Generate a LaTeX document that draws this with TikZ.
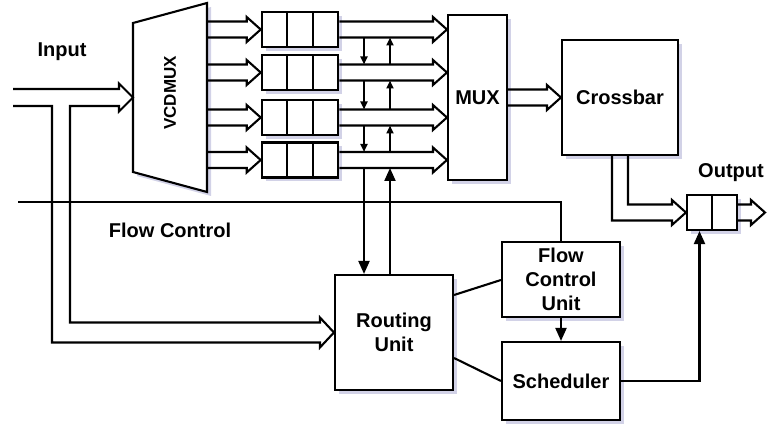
\documentclass[tikz,border=0pt]{standalone}
\usepackage{fontspec}
\setmainfont{Liberation Sans}
\usetikzlibrary{arrows.meta,calc,shadows}

\tikzset{
  box/.style={draw, line width=2.1pt, fill=white, align=center, inner sep=0pt,
    font=\fontsize{20}{24}\selectfont\bfseries,
    drop shadow={shadow xshift=4pt, shadow yshift=-4pt, fill=blue!30!gray!45, opacity=0.6}},
  cell/.style={draw, line width=2.1pt, fill=white, minimum width=25.5pt,
    minimum height=35pt, inner sep=0pt,
    drop shadow={shadow xshift=4pt, shadow yshift=-4pt, fill=blue!30!gray!45, opacity=0.6}},
  hollow/.style={line width=2.1pt, line join=miter},
  wire/.style={line width=2.1pt},
  bigtip/.style={-{Triangle[length=13pt,width=11pt]}},
  smalltip/.style={-{Triangle[length=8pt,width=7pt]}},
  lbl/.style={font=\fontsize{20}{24}\selectfont\bfseries}
}

% hollow (wide) arrow, start point and tip at the same height
\newcommand{\hollowarrow}[2]{%
  \draw[hollow] let \p1=#1, \p2=#2 in
    (\x1,\y2+8pt) -- (\x2-14pt,\y2+8pt) -- (\x2-14pt,\y2+12.5pt) -- (\p2)
    -- (\x2-14pt,\y2-12.5pt) -- (\x2-14pt,\y2-8pt) -- (\x1,\y2-8pt);}

\begin{document}
\begin{tikzpicture}[x=1pt,y=-1pt]
    \useasboundingbox (0,0) rectangle (777,425);

    % VCD demultiplexer
    \draw[box] (133,23) -- (207,3) -- (207,192) -- (133,172) -- cycle;
    \node[rotate=90, font=\fontsize{17}{20}\selectfont\bfseries] (vcd) at (170,93) {VCDMUX};
    \coordinate (vcdin) at (133,97.5);
    \coordinate (vcdout) at (207,97.5);

    % virtual channel buffers
    \foreach \r/\y in {1/29.5,2/72.5,3/117.5,4/160}
      \foreach \c/\x in {1/274.5,2/300,3/325.5}
        \node[cell] (q\r\c) at (\x,\y) {};

    % blocks
    \node[box, minimum width=59pt, minimum height=165pt] (mux) at (477.5,97.5) {MUX};
    \node[box, minimum width=116pt, minimum height=115pt] (cb) at (620,97.5) {Crossbar};
    \node[box, minimum width=118pt, minimum height=115pt] (rout) at (394,332.5) {Routing\\Unit};
    \node[box, minimum width=118pt, minimum height=75pt] (fcu) at (561,279.5) {Flow\\Control\\Unit};
    \node[box, minimum width=118pt, minimum height=78pt] (sch) at (561,381) {Scheduler};

    % output buffer
    \node[cell, minimum width=25pt] (ob1) at (699.5,212.5) {};
    \node[cell, minimum width=25pt] (ob2) at (724.5,212.5) {};

    % labels
    \node[lbl] (inlbl) at (62,52) {Input};
    \node[lbl] (fclbl) at (170,230) {Flow Control};
    \node[lbl] (outlbl) at (731,173) {Output};

    % free ends
    \coordinate (inbeg) at (13,97.5);
    \coordinate (branch) at (61,0);
    \coordinate (outtip) at (765,212.5);
    \coordinate (fcbeg) at (18,202);
    \coordinate (dn) at (364,0);
    \coordinate (up) at (390,0);

    % input, split towards the routing unit
    \draw[hollow] let \p1=(inbeg), \p2=(vcdin), \p3=(rout.west), \p4=(branch) in
      (\x1,\y2+8.5pt) -- (\x2-14pt,\y2+8.5pt) -- (\x2-14pt,\y2+14pt) -- (\p2)
      -- (\x2-14pt,\y2-14pt) -- (\x2-14pt,\y2-8.5pt) -- (\x4+9pt,\y2-8.5pt)
      -- (\x4+9pt,\y3+10pt) -- (\x3-14pt,\y3+10pt) -- (\x3-14pt,\y3+15pt) -- (\p3)
      -- (\x3-14pt,\y3-15pt) -- (\x3-14pt,\y3-10pt) -- (\x4-9pt,\y3-10pt)
      -- (\x4-9pt,\y2-8.5pt) -- (\x1,\y2-8.5pt);

    % data path
    \foreach \r in {1,...,4} {
      \hollowarrow{(vcdout |- q\r1)}{(q\r1.west)}
      \hollowarrow{(q\r3.east)}{(mux.west |- q\r3)}
    }
    \hollowarrow{(mux.east)}{(cb.west)}
    \hollowarrow{(ob2.east)}{(outtip)}
    \draw[hollow] let \p1=(cb.south), \p2=(ob1.west) in
      (\x1-8pt,\y1) -- (\x1-8pt,\y2-8pt) -- (\x2-14pt,\y2-8pt) -- (\x2-14pt,\y2-12.5pt)
      -- (\p2) -- (\x2-14pt,\y2+12.5pt) -- (\x2-14pt,\y2+8pt) -- (\x1+8pt,\y2+8pt)
      -- (\x1+8pt,\y1);

    % requests between buffers and routing unit
    \foreach \r/\s in {1/2,2/3,3/4} {
      \draw[wire,smalltip] ($(dn |- q\r3)+(0,8)$) -- ($(dn |- q\s3)+(0,-8)$);
      \draw[wire,smalltip] ($(up |- q\s3)+(0,-8)$) -- ($(up |- q\r3)+(0,8)$);
    }
    \draw[wire,bigtip] ($(dn |- q43)+(0,8)$) -- (dn |- rout.north);
    \draw[wire,bigtip] (up |- rout.north) -- ($(up |- q43)+(0,8)$);

    % control
    \draw[wire] (fcbeg) -| (fcu.north);
    \draw[wire] ($(rout.east)+(0,-37.5)$) -- ($(fcu.west)+(0,0.5)$);
    \draw[wire] ($(rout.east)+(0,25.5)$) -- (sch.west);
    \draw[wire,bigtip] (fcu.south) -- (sch.north);
    \draw[wire,bigtip] (sch.east) -| (ob1.south);
\end{tikzpicture}
\end{document}
